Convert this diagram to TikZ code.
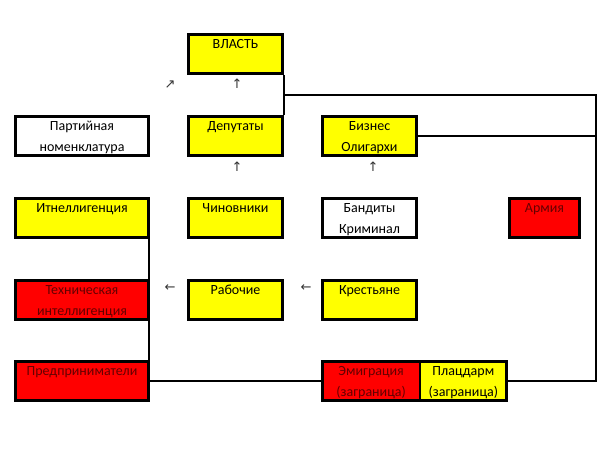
\documentclass[tikz,border=0pt]{standalone}
\usepackage{fontspec}
\setmainfont{Carlito}
\newfontfamily\arrowfont{DejaVu Sans}
\definecolor{boxyellow}{RGB}{255,255,0}
\definecolor{boxred}{RGB}{255,0,0}
\definecolor{darktext}{RGB}{100,0,0}
\begin{document}
\begin{tikzpicture}[x=1pt,y=1pt,yscale=-1,xscale=1,
  cell/.style={draw=black, line width=2.6pt, anchor=north west, inner sep=0pt,
    text height=14.4pt, text depth=25pt, align=center,
    font=\fontsize{14}{20.5}\selectfont},
  yel/.style={cell, fill=boxyellow},
  wht/.style={cell, fill=white},
  rd/.style={cell, fill=boxred, text=darktext},
  colA/.style={text width=133.4pt},
  colB/.style={text width=94.4pt},
  arr/.style={inner sep=0pt, font=\arrowfont\fontsize{13}{13}\selectfont, text=black!80},
  link/.style={draw=black, line width=1.8pt}]
\useasboundingbox (0,0) rectangle (600,450);
% top rows
\node [yel, colB] (vlast) at (187,33) {ВЛАСТЬ};
\node [wht, colA] (nomen) at (14,115) {Партийная\\номенклатура};
\node [yel, colB] (deput) at (187,115) {Депутаты};
\node [yel, colB] (biz) at (321,115) {Бизнес\\Олигархи};
% middle rows
\node [yel, colA] (intel) at (14,197) {Итнеллигенция};
\node [yel, colB] (chin) at (187,197) {Чиновники};
\node [wht, colB] (band) at (321,197) {Бандиты\\Криминал};
\node [rd, text width=70.4pt] (army) at (508,197) {Армия};
\node [rd, colA] (tech) at (14,279) {Техническая\\интеллигенция};
\node [yel, colB] (rab) at (187,279) {Рабочие};
\node [yel, colB] (krest) at (321,279) {Крестьяне};
% bottom row
\node [rd, colA] (predp) at (14,360) {Предприниматели};
\node [rd, text width=97.7pt] (emig) at (321,360) {Эмиграция\\(заграница)};
\node [yel, text width=86.7pt] (placd) at ([xshift=-2.6pt]emig.north east) {Плацдарм\\(заграница)};
% arrows
\node [arr] (a1) at (170,85) {↗};
\node [arr] (a2) at (237,84) {↑};
\node [arr] (a3) at (237,167) {↑};
\node [arr] (a4) at (373,167) {↑};
\node [arr] (a5) at (170,288) {←};
\node [arr] (a6) at (306,288) {←};
% connectors
\coordinate (rtop) at (596,95);
\draw [link] (vlast.south east) -- (deput.north east);
\draw [link] (vlast.south east |- rtop) -- (rtop) -- (rtop |- placd.east) -- (placd.east);
\draw [link] (biz.east) -- (biz.east -| rtop);
\draw [link] ([xshift=-1.3pt]intel.south east) -- ([xshift=-1.3pt]predp.north east);
\draw [link] (predp.east) -- (emig.west);
\end{tikzpicture}
\end{document}
